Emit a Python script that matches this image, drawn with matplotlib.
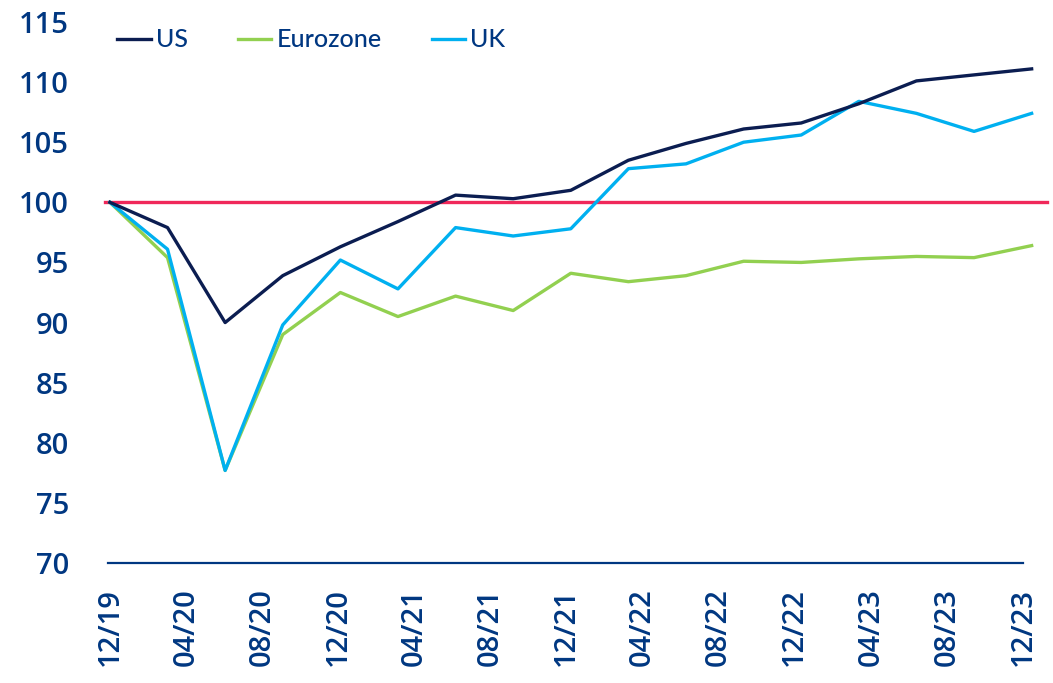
import matplotlib
matplotlib.use("Agg")
import matplotlib.pyplot as plt
import numpy as np

# ---- data ----
quarters = ["12/19", "03/20", "06/20", "09/20", "12/20", "03/21", "06/21", "09/21", "12/21",
            "03/22", "06/22", "09/22", "12/22", "03/23", "06/23", "09/23", "12/23"]
us = [100.0, 97.9, 90.0, 93.9, 96.3, 98.4, 100.6, 100.3, 101.0,
      103.5, 104.9, 106.1, 106.6, 108.2, 110.1, 110.6, 111.1]
eurozone = [100.0, 95.4, 77.7, 89.0, 92.5, 90.5, 92.2, 91.0, 94.1,
            93.4, 93.9, 95.1, 95.0, 95.3, 95.5, 95.4, 96.4]
uk = [100.0, 96.1, 77.7, 89.8, 95.2, 92.8, 97.9, 97.2, 97.8,
      102.8, 103.2, 105.0, 105.6, 108.4, 107.4, 105.9, 107.4]
tick_labels = ["12/19", "04/20", "08/20", "12/20", "04/21", "08/21", "12/21",
               "04/22", "08/22", "12/22", "04/23", "08/23", "12/23"]
y_ticks = [70, 75, 80, 85, 90, 95, 100, 105, 110, 115]
reference_level = 100

# ---- style ----
TXT = "#003781"
C_US = "#0b1d51"
C_EZ = "#92d050"
C_UK = "#00b0f0"
C_REF = "#f0285a"
plt.rcParams["font.family"] = ["Open Sans", "DejaVu Sans"]

fig = plt.figure(figsize=(10.53, 6.83), dpi=100)
ax = fig.add_axes([108 / 1053, 1 - 563 / 683, (1023 - 108) / 1053, (563 - 22) / 683])

months = np.arange(len(quarters)) * 3.0
ax.plot(months, us, color=C_US, lw=2.4, label="US", clip_on=False, zorder=4)
ax.plot(months, eurozone, color=C_EZ, lw=2.4, label="Eurozone", clip_on=False, zorder=3)
ax.plot(months, uk, color=C_UK, lw=2.4, label="UK", clip_on=False, zorder=3)
ax.plot([-0.25, 48.8], [reference_level, reference_level], color=C_REF, lw=2.4,
        clip_on=False, zorder=2)

ax.set_xlim(-0.1, 47.4)
ax.set_ylim(70, 115)
ax.set_yticks(y_ticks)
ax.set_yticklabels([str(v) for v in y_ticks])
tick_pos = np.arange(len(tick_labels)) * 4 * (47.55 / 48)
ax.set_xticks(tick_pos)
ax.set_xticklabels(tick_labels, rotation=90)

for s in ["top", "right", "left"]:
    ax.spines[s].set_visible(False)
ax.spines["bottom"].set_color(TXT)
ax.spines["bottom"].set_linewidth(1.6)
ax.tick_params(axis="y", length=0, pad=28, labelsize=21, labelcolor=TXT)
ax.tick_params(axis="x", length=0, pad=18, labelsize=21, labelcolor=TXT)
for lab in ax.get_yticklabels() + ax.get_xticklabels():
    lab.set_fontweight("semibold")

leg = ax.legend(loc="center left", bbox_to_anchor=(0.0098, 0.967), ncol=3, frameon=False,
                borderpad=0, borderaxespad=0,
                prop={"family": ["Lato", "DejaVu Sans"], "size": 18, "weight": "medium"},
                handlelength=1.35, handletextpad=0.2, columnspacing=2.0)
for t in leg.get_texts():
    t.set_color(TXT)

fig.savefig("out.png", dpi=100)
